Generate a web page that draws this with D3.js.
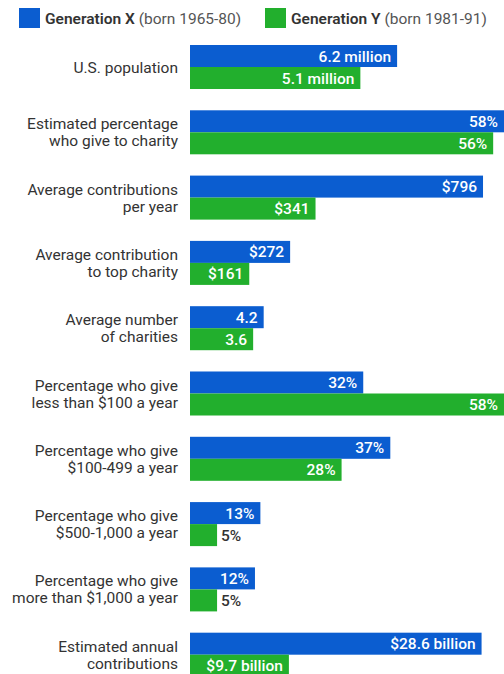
<!DOCTYPE html>
<html>
<head>
<meta charset="utf-8">
<script src="https://cdn.jsdelivr.net/npm/d3@7"></script>
<style>
  html, body { margin: 0; padding: 0; background: #fff; }
  svg { display: block; font-family: Roboto, "Noto Sans", sans-serif; }
</style>
</head>
<body>
<svg id="chart" width="504" height="674"></svg>
<script>
// ---- data ----
const categories = [
  ["U.S. population"],
  ["Estimated percentage", "who give to charity"],
  ["Average contributions", "per year"],
  ["Average contribution", "to top charity"],
  ["Average number", "of charities"],
  ["Percentage who give", "less than $100 a year"],
  ["Percentage who give", "$100-499 a year"],
  ["Percentage who give", "$500-1,000 a year"],
  ["Percentage who give", "more than $1,000 a year"],
  ["Estimated annual", "contributions"]
];
const genX = [6.2, 58, 796, 272, 4.2, 32, 37, 13, 12, 28.6];
const genY = [5.1, 56, 341, 161, 3.6, 58, 28, 5, 5, 9.7];
const genXLabels = ["6.2 million", "58%", "$796", "$272", "4.2", "32%", "37%", "13%", "12%", "$28.6 billion"];
const genYLabels = ["5.1 million", "56%", "$341", "$161", "3.6", "58%", "28%", "5%", "5%", "$9.7 billion"];
// each row is drawn on its own scale; value at which a bar reaches full width
const rowScaleMax = [9.4, 58, 853, 853, 17.9, 58, 58, 58, 58, 30.8];
const seriesNames = [["Generation X", " (born 1965-80)"], ["Generation Y", " (born 1981-91)"]];
const colors = ["#0b5dd0", "#22af2d"];

// ---- layout ----
const svg = d3.select("#chart");
const x0 = 190, x1 = 504;
const y = d3.scaleBand().domain(d3.range(categories.length))
  .range([45, 676.7]).paddingInner(0.326).paddingOuter(0);
const sub = d3.scaleBand().domain([0, 1]).range([0, y.bandwidth()]);

// legend
const leg = svg.append("g");
[19, 265].forEach((lx, i) => {
  leg.append("rect").attr("x", lx).attr("y", 8).attr("width", 21).attr("height", 20).attr("fill", colors[i]);
  const t = leg.append("text").attr("x", lx + 26).attr("y", 23.5).attr("font-size", 15.5);
  t.append("tspan").attr("fill", "#333").attr("font-weight", 600).text(seriesNames[i][0]);
  t.append("tspan").attr("fill", "#555").text(seriesNames[i][1]);
});

const rows = svg.selectAll("g.row").data(categories).join("g")
  .attr("class", "row")
  .attr("transform", (d, i) => `translate(0,${y(i)})`);

rows.each(function(cat, i) {
  const g = d3.select(this);
  const xs = d3.scaleLinear().domain([0, rowScaleMax[i]]).range([x0, x1]);
  const vals = [genX[i], genY[i]];
  const labs = [genXLabels[i], genYLabels[i]];
  vals.forEach((v, k) => {
    const by = sub(k);
    const w = xs(v) - x0;
    g.append("rect").attr("x", x0).attr("y", by).attr("width", w).attr("height", sub.bandwidth())
      .attr("fill", colors[k]);
    const inside = w > 40;
    g.append("text")
      .attr("x", inside ? xs(v) - 6 : xs(v) + 4)
      .attr("y", by + sub.bandwidth() / 2)
      .attr("dy", "0.36em")
      .attr("text-anchor", inside ? "end" : "start")
      .attr("font-size", 15.5)
      .attr("font-weight", 500)
      .attr("fill", inside ? "#fff" : "#333")
      .text(labs[k]);
  });
  const cy = y.bandwidth() / 2;
  const lh = 17;
  const t = g.append("text").attr("text-anchor", "end").attr("font-size", 15.5).attr("fill", "#333");
  cat.forEach((line, j) => {
    t.append("tspan").attr("x", 178)
      .attr("y", cy + (j - (cat.length - 1) / 2) * lh)
      .attr("dy", "0.36em")
      .text(line);
  });
});
</script>
</body>
</html>
